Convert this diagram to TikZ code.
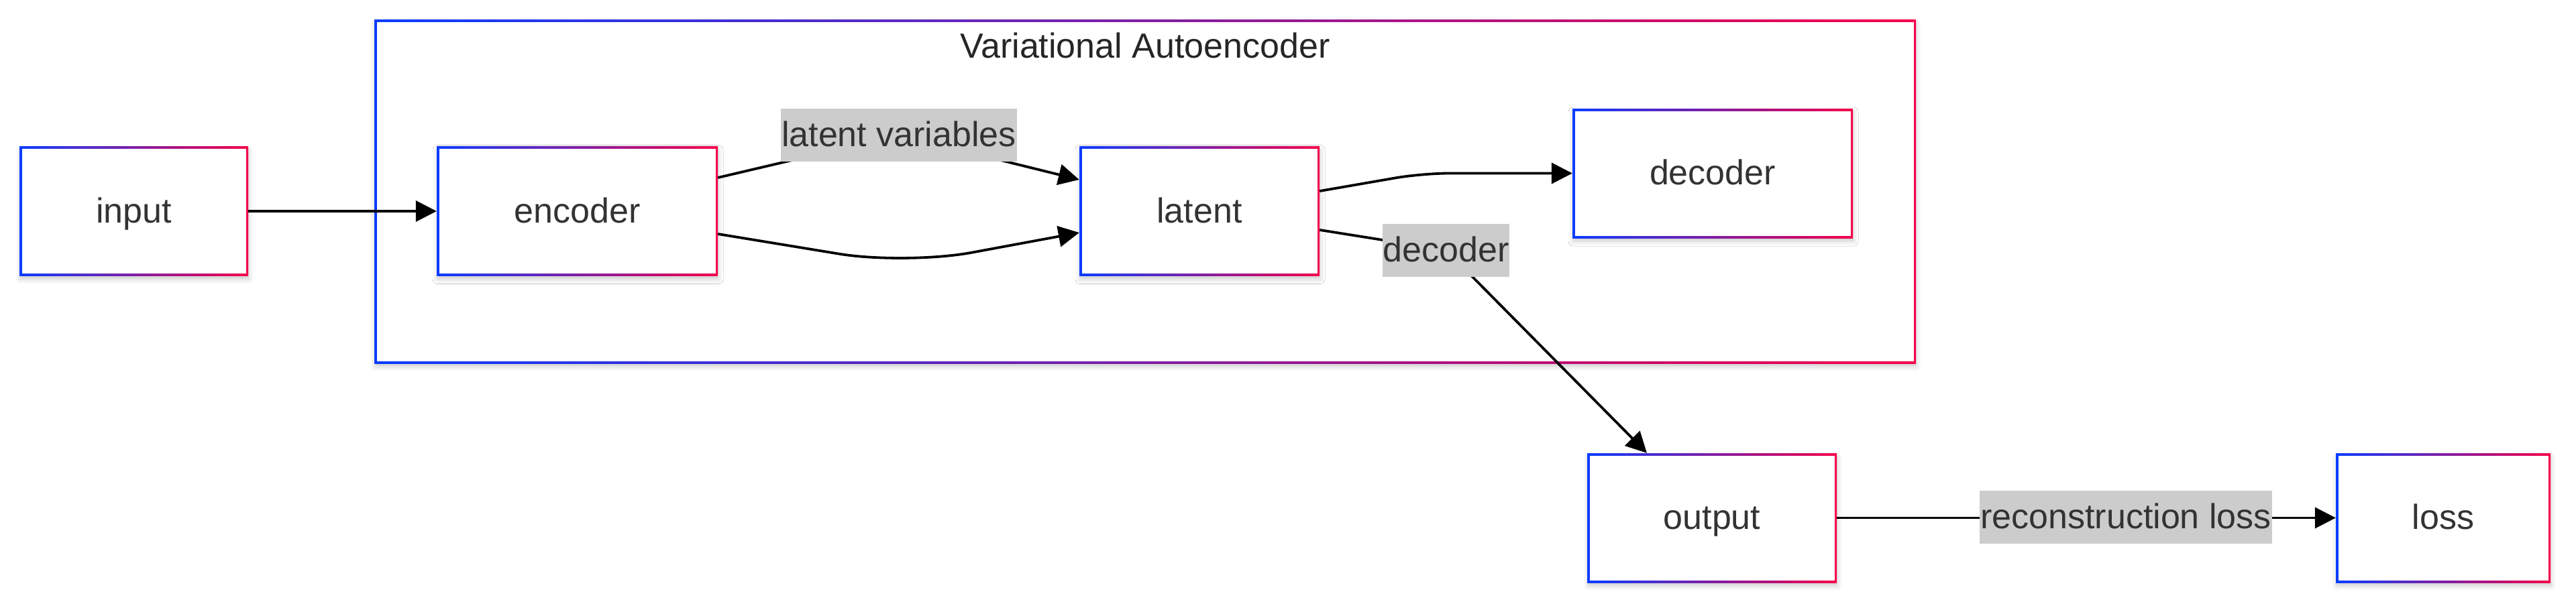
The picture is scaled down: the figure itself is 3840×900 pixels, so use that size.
\documentclass[tikz,border=0pt]{standalone}
\usepackage{fontspec}
\setmainfont{Liberation Sans}
\usetikzlibrary{arrows.meta,shadows.blur}
\definecolor{vblue}{HTML}{0A3CFF}
\definecolor{vred}{HTML}{F5004A}
\definecolor{txt}{HTML}{333333}
\definecolor{lblgray}{HTML}{CCCCCC}
\pgfdeclarelayer{edges}
\pgfdeclarelayer{fg}
\pgfsetlayers{main,edges,fg}
\tikzset{
  gradbox/.style={rectangle, left color=vblue, right color=vred, draw=none,
    path picture={\fill[white] ([shift={(3.5pt,3.5pt)}]path picture bounding box.south west) rectangle ([shift={(-3.5pt,-3.5pt)}]path picture bounding box.north east);}},
  shadowed/.style={blur shadow={shadow xshift=1pt, shadow yshift=-5pt, shadow blur radius=7pt, shadow opacity=20}},
  nodetext/.style={font=\fontsize{52}{62}\selectfont, text=txt, text height=46pt, text depth=12pt, inner sep=0pt},
  flowbox/.style={gradbox, shadowed, nodetext, minimum height=193pt},
  elabel/.style={nodetext, fill=lblgray, inner xsep=1pt, minimum height=79pt},
  edge/.style={line width=3.8pt, draw=black, -{Triangle[length=31pt,width=31pt]}},
}
\begin{document}
\begin{tikzpicture}[x=1pt,y=-1pt]
\useasboundingbox (0,0) rectangle (3840,900);
\node[gradbox, shadowed, minimum width=2298pt, minimum height=513pt] (vae) at (1707,285.5) {};
\node[nodetext, text=black!85] (title) at (1707,69) {Variational Autoencoder};

\node[flowbox, minimum width=341pt] (input) at (199.5,315) {input};
\node[flowbox, minimum width=419pt] (encoder) at (860.5,315) {encoder};
\node[flowbox, minimum width=358pt] (latent) at (1788,315) {latent};
\node[flowbox, minimum width=418pt] (decoder) at (2553,258.5) {decoder};
\node[flowbox, minimum width=372pt] (output) at (2552,772.5) {output};
\node[flowbox, minimum width=320pt] (loss) at (3642,772.5) {loss};

\begin{pgfonlayer}{fg}
\node[elabel] (lv) at (1340,201.5) {latent variables};
\node[elabel] (dl) at (2155.5,373) {decoder};
\node[elabel] (rl) at (3169,771.5) {reconstruction loss};
\end{pgfonlayer}

\coordinate (bend1) at (2120,258.5);
\coordinate (bend2) at (1350,395);

\begin{pgfonlayer}{edges}
\draw[edge] (input.east) -- (encoder.west);
\draw[edge, rounded corners=30pt] ([yshift=50pt]encoder.east) -- (lv.center) -- ([yshift=47pt]latent.west);
\draw[edge, rounded corners=100pt] ([yshift=-34pt]encoder.east) -- (bend2) -- ([yshift=-32pt]latent.west);
\draw[edge, rounded corners=40pt] ([yshift=30pt]latent.east) -- (bend1) -- (decoder.west);
\draw[edge] ([yshift=-28pt]latent.east) -- (dl.center) -- ([xshift=-97pt]output.north);
\draw[edge] (output.east) -- (loss.west);
\end{pgfonlayer}
\end{tikzpicture}
\end{document}
